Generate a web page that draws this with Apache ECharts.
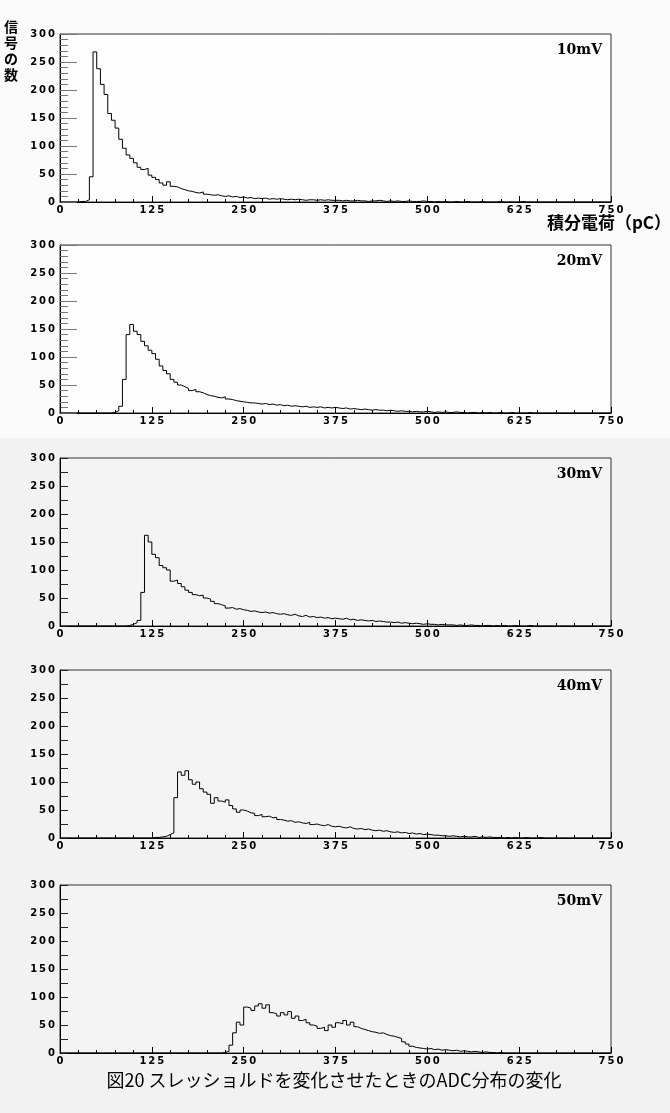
<!DOCTYPE html>
<html>
<head>
<meta charset="utf-8">
<title>ADC分布の変化</title>
<script src="https://cdn.jsdelivr.net/npm/echarts@6/dist/echarts.min.js"></script>
<style>
  html, body { margin: 0; padding: 0; background: #f2f2f2; }
  #main { width: 670px; height: 1113px; }
</style>
</head>
<body>
<div id="main"></div>
<script>
// ADC histograms, 5 pC bins from 0 to 750 pC (150 bins each)
var binWidth = 5;
var thresholds = ['10mV', '20mV', '30mV', '40mV', '50mV'];

var h10 = [
  0,0,0,0,0,1,1,4,45,268,
  238,210,192,158,146,132,112,96,84,78,
  70,62,58,60,48,44,40,34,30,36,
  28,27,24,22,20,19,17,16,18,14,
  13,12,13,11,10,11,9,10,8,9,
  7,8,6,7,6,7,5,6,5,6,
  5,4,5,4,5,4,3,4,4,3,
  4,3,4,3,3,3,2,3,2,2,
  3,2,2,1,2,2,3,2,1,2,
  1,2,1,1,2,1,1,1,2,1,
  1,0,1,0,1,0,0,1,0,0,
  1,0,0,0,1,0,0,0,0,1,
  0,0,0,0,0,1,0,0,0,0,
  0,0,0,0,0,0,0,0,0,0,
  0,0,0,0,0,0,0,0,0,0
];
var h20 = [
  0,0,0,0,0,0,0,0,0,0,
  0,0,0,0,1,4,12,60,140,158,
  146,140,128,120,112,106,96,84,76,70,
  60,55,50,47,44,40,42,38,36,33,
  31,30,28,27,29,25,24,22,21,20,
  19,18,18,17,16,17,15,16,14,15,
  13,14,12,13,12,11,12,10,11,10,
  11,9,10,9,10,9,8,9,7,8,
  7,6,7,6,5,6,5,5,4,5,
  4,3,4,3,3,2,3,2,2,3,
  2,1,2,1,2,1,1,2,1,1,
  0,1,1,0,1,0,1,0,0,1,
  0,0,1,0,0,0,0,1,0,0,
  0,0,0,0,0,0,0,0,0,0,
  0,0,0,0,0,0,0,0,0,0
];
var h30 = [
  0,0,0,0,0,0,0,0,0,0,
  0,0,0,0,0,0,0,0,1,3,
  6,10,60,162,150,128,122,108,104,100,
  80,82,76,70,64,60,56,54,55,50,
  48,44,40,38,36,32,33,30,31,29,
  28,26,27,25,24,25,23,24,22,21,
  22,20,19,21,18,17,19,16,17,15,
  16,14,15,13,14,13,12,14,11,12,
  10,11,10,9,10,8,9,8,7,7,
  6,7,5,6,5,4,5,4,3,4,
  3,3,2,3,2,2,2,1,2,1,
  1,2,1,1,0,1,1,0,1,0,
  1,0,0,1,0,0,0,1,0,0,
  0,0,0,0,0,0,0,0,0,0,
  0,0,0,0,0,0,0,0,0,0
];
var h40 = [
  0,0,0,0,0,0,0,0,0,0,
  0,0,0,0,0,0,0,0,0,0,
  0,0,0,0,0,1,1,2,3,6,
  9,72,118,112,120,104,96,100,88,82,
  78,62,72,66,64,68,58,52,46,50,
  48,45,44,40,42,38,39,36,37,33,
  32,30,31,28,29,27,26,28,24,25,
  23,22,24,21,20,21,19,18,20,17,
  16,17,15,16,14,13,14,12,13,11,
  10,11,9,10,8,9,7,8,6,7,
  6,5,5,4,4,3,4,3,2,3,
  2,2,3,1,2,1,2,1,1,1,
  0,1,0,1,0,0,1,0,0,0,
  1,0,0,0,0,0,0,0,0,0,
  0,0,0,0,0,0,0,0,0,0
];
var h50 = [
  0,0,0,0,0,0,0,0,0,0,
  0,0,0,0,0,0,0,0,0,0,
  0,0,0,0,0,0,0,0,0,0,
  0,0,0,0,0,0,0,0,0,0,
  0,0,0,0,1,3,14,36,55,50,
  82,80,76,84,88,80,86,72,70,66,
  72,68,74,62,66,58,60,54,50,48,
  44,46,40,50,46,54,52,58,50,55,
  47,44,42,40,38,37,35,36,33,31,
  30,28,26,20,16,12,10,9,8,7,
  8,6,7,5,6,5,4,5,3,4,
  3,2,3,2,1,2,1,1,0,1,
  0,0,0,0,0,0,0,0,0,0,
  0,0,0,0,0,0,0,0,0,0,
  0,0,0,0,0,0,0,0,0,0
];
var hists = [h10, h20, h30, h40, h50];

// layout of the five panels
var gridTops = [34, 245, 458, 670, 885];

// bin edges -> points for a step line
function toSteps(arr) {
  var out = [];
  for (var i = 0; i < arr.length; i++) {
    out.push([i * binWidth, arr[i]]);
  }
  out.push([arr.length * binWidth, arr[arr.length - 1]]);
  return out;
}
// "125" -> "1 2 5" with thin spaces (wide digits like the original)
function spaced(v) {
  return String(v).split('').join('\u2009');
}

var labelFont = {
  fontFamily: 'DejaVu Sans',
  fontWeight: 'bold',
  fontSize: 10,
  color: '#000'
};

var grids = [], xAxes = [], yAxes = [], series = [];
var graphics = [
  { type: 'rect', z: -10, shape: { x: 0, y: 0, width: 670, height: 438 }, style: { fill: '#fbfbfb' } }
];

for (var k = 0; k < hists.length; k++) {
  var panelTop = gridTops[k];
  var upper = k < 2;
  var tickColor = upper ? '#777' : '#222';
  grids.push({
    left: 60, top: panelTop, width: 551, height: 168,
    show: true,
    borderColor: '#333',
    borderWidth: 1,
    backgroundColor: upper ? '#fdfdfd' : '#f4f4f4'
  });
  xAxes.push({
    type: 'value', gridIndex: k,
    min: 0, max: 750, interval: 125,
    axisLine: { lineStyle: { color: '#000', width: 1 } },
    axisTick: { inside: true, length: 6, lineStyle: { color: '#000' } },
    minorTick: { show: true, splitNumber: 5, length: 3, lineStyle: { color: '#000' } },
    splitLine: { show: false },
    axisLabel: Object.assign({ margin: 3, formatter: spaced }, labelFont)
  });
  yAxes.push({
    type: 'value', gridIndex: k,
    min: 0, max: 300, interval: 50,
    axisLine: { show: true, lineStyle: { color: '#000', width: 1 } },
    axisTick: { show: true, inside: true, length: upper ? 17 : 8, lineStyle: { color: tickColor } },
    minorTick: { show: true, splitNumber: upper ? 5 : 2, length: 8, lineStyle: { color: tickColor } },
    splitLine: { show: false },
    axisLabel: Object.assign({ margin: 5, formatter: spaced }, labelFont)
  });
  series.push({
    type: 'line',
    xAxisIndex: k, yAxisIndex: k,
    step: 'end',
    symbol: 'none',
    silent: true,
    data: toSteps(hists[k]),
    lineStyle: { color: '#000', width: 1 }
  });
  graphics.push({
    type: 'text', x: 602, y: panelTop + 9,
    style: {
      text: thresholds[k],
      align: 'right', verticalAlign: 'top',
      fill: '#000',
      font: 'bold 14px "DejaVu Serif"'
    }
  });
}

// axis titles and caption
graphics.push({
  type: 'text', x: 11, y: 19,
  style: {
    text: '信\n号\nの\n数',
    align: 'center', verticalAlign: 'top',
    lineHeight: 16,
    fill: '#000',
    font: 'bold 14px "Noto Sans CJK JP"'
  }
});
graphics.push({
  type: 'text', x: 671, y: 214,
  style: {
    text: '積分電荷（pC）',
    align: 'right', verticalAlign: 'top',
    fill: '#000',
    font: 'bold 17px "Noto Sans CJK JP"'
  }
});
graphics.push({
  type: 'text', x: 334, y: 1080,
  style: {
    text: '図20 スレッショルドを変化させたときのADC分布の変化',
    align: 'center', verticalAlign: 'middle',
    fill: '#000',
    font: '18px "Noto Sans CJK JP"'
  }
});

var chart = echarts.init(document.getElementById('main'));
chart.setOption({
  backgroundColor: '#f2f2f2',
  animation: false,
  grid: grids,
  xAxis: xAxes,
  yAxis: yAxes,
  series: series,
  graphic: graphics
});
</script>
</body>
</html>
